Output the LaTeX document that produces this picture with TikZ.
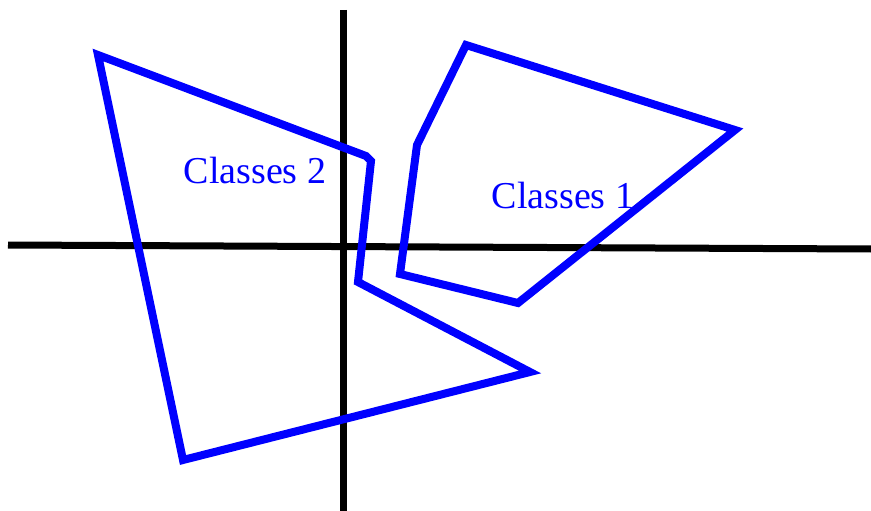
\documentclass[tikz,border=0pt]{standalone}
\usepackage{fontspec}
\setmainfont{Liberation Serif}
\begin{document}
\begin{tikzpicture}[x=1pt,y=-1pt,
  axis/.style={line width=7pt,black},
  region/.style={line width=8pt,draw={rgb,255:red,0;green,0;blue,255},line join=miter},
  lbl/.style={text={rgb,255:red,0;green,0;blue,255},font=\fontsize{38}{40}\selectfont,inner sep=0pt,anchor=base}]
\useasboundingbox (0,0) rectangle (871,511);
\coordinate (xl) at (8,245);
\coordinate (xr) at (871,249);
\coordinate (yt) at (343,10);
\coordinate (yb) at (343,511);
\draw[axis] (xl) -- (xr);
\draw[axis] (yt) -- (yb);
\draw[region] (98,55) -- (366,156) -- (371,161) -- (358,282) -- (530,372) -- (183,460) -- cycle;
\draw[region] (466,45) -- (735,130) -- (518,303) -- (400,274) -- (417,145) -- cycle;
\node[lbl] (c2) at (255,183) {Classes 2};
\node[lbl] (c1) at (563,208) {Classes 1};
\end{tikzpicture}
\end{document}
